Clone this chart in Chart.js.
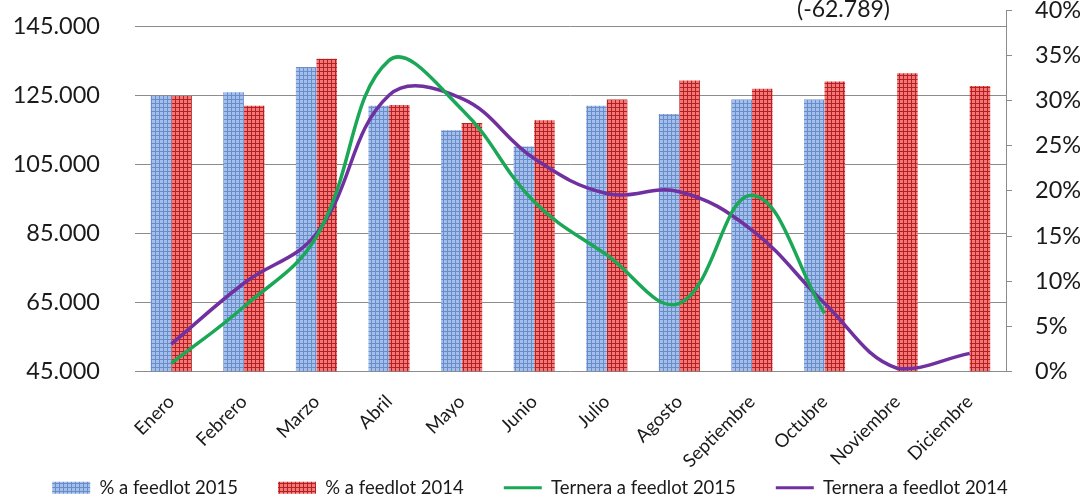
<!DOCTYPE html>
<html>
<head>
<meta charset="utf-8">
<script src="https://cdn.jsdelivr.net/npm/chart.js@4.4.1/dist/chart.umd.min.js"></script>
<style>
  html, body { margin: 0; padding: 0; background: #fff; }
  #wrap { position: relative; width: 1088px; height: 503px; }
  #note {
    position: absolute; left: 797px; top: -6px;
    font: 23px Lato, sans-serif; color: #1a1a1a;
  }
</style>
</head>
<body>
<div id="wrap">
  <canvas id="chart" width="1088" height="503"></canvas>
  <div id="note">(-62.789)</div>
</div>
<script>
// chart data
const months = ["Enero", "Febrero", "Marzo", "Abril", "Mayo", "Junio", "Julio",
  "Agosto", "Septiembre", "Octubre", "Noviembre", "Diciembre"];

// % a feedlot (right axis)
const pct2015 = [30.5, 30.9, 33.7, 29.4, 26.7, 24.9, 29.4, 28.5, 30.1, 30.1, null, null];
const pct2014 = [30.5, 29.4, 34.6, 29.5, 27.5, 27.8, 30.1, 32.2, 31.3, 32.1, 33.0, 31.6];

// Ternera a feedlot, cabezas (left axis)
const ternera2015 = [47400, 63800, 84100, 135100, 121000, 94200, 78800, 64800, 96100, 61900, null, null];
const ternera2014 = [53000, 70600, 85000, 125000, 124100, 106700, 96600, 97100, 86000, 64800, 46000, 50300];

const leftTicks = [45000, 65000, 85000, 105000, 125000, 145000];
const rightTicks = [0, 5, 10, 15, 20, 25, 30, 35, 40];

const TEXT = "#1a1a1a";
const GRID = "#8c8c8c";
const FONT = "Lato, sans-serif";

// crosshatch fill like the excel pattern
function hatch(base, line) {
  const c = document.createElement("canvas");
  c.width = 4;
  c.height = 4;
  const g = c.getContext("2d");
  g.fillStyle = base;
  g.fillRect(0, 0, 4, 4);
  g.fillStyle = line;
  g.fillRect(3, 0, 1, 4);
  g.fillRect(0, 3, 4, 1);
  return g.createPattern(c, "repeat");
}

const blueFill = hatch("#a3c0ec", "#6a8cc8");
const redFill = hatch("#f47878", "#b22222");
const green = "#1aa857";
const purple = "#7030a0";

function thousands(v) {
  return String(v).replace(/\B(?=(\d{3})+(?!\d))/g, ".");
}

// legend sits a bit left of centre in the original,
// and the rotated month names run down into the legend band
const layoutTweaks = {
  id: "layoutTweaks",
  afterLayout(chart) {
    chart.legend.left -= 14;
    chart.legend.right -= 14;
    chart.scales.x.bottom = chart.height;
  },
};

const ctx = document.getElementById("chart").getContext("2d");

new Chart(ctx, {
  type: "bar",
  data: {
    labels: months,
    datasets: [
      {
        label: "% a feedlot 2015",
        data: pct2015,
        backgroundColor: blueFill,
        yAxisID: "yPct",
        order: 2,
      },
      {
        label: "% a feedlot 2014",
        data: pct2014,
        backgroundColor: redFill,
        yAxisID: "yPct",
        order: 2,
      },
      {
        type: "line",
        label: "Ternera a feedlot 2015",
        data: ternera2015,
        borderColor: green,
        borderWidth: 3.5,
        tension: 0.4,
        pointRadius: 0,
        yAxisID: "yHead",
        order: 0,
      },
      {
        type: "line",
        label: "Ternera a feedlot 2014",
        data: ternera2014,
        borderColor: purple,
        borderWidth: 3.5,
        tension: 0.4,
        pointRadius: 0,
        yAxisID: "yHead",
        order: 1,
      },
    ],
  },
  plugins: [layoutTweaks],
  options: {
    responsive: false,
    animation: false,
    layout: { padding: { top: 0, left: 0, right: 0, bottom: -4 } },
    datasets: {
      bar: { categoryPercentage: 0.566, barPercentage: 1.0 },
    },
    scales: {
      x: {
        grid: { display: false },
        border: { display: false },
        ticks: {
          color: TEXT,
          font: { family: FONT, size: 18.5 },
          minRotation: 45,
          maxRotation: 45,
          padding: 11,
        },
        afterFit: (s) => { s.height = 66.8; },
      },
      yHead: {
        position: "left",
        min: 45000,
        max: 149700,
        afterBuildTicks: (s) => { s.ticks = leftTicks.map((v) => ({ value: v })); },
        grid: { color: GRID, drawTicks: false },
        border: { display: false },
        ticks: {
          color: TEXT,
          padding: 35,
          font: { family: FONT, size: 23.5 },
          callback: (v) => thousands(v),
        },
        afterFit: (s) => {
          s.width = 135;
          s.paddingTop = 10;
          s.paddingBottom = 10;
        },
      },
      yPct: {
        position: "right",
        min: 0,
        max: 40,
        afterBuildTicks: (s) => { s.ticks = rightTicks.map((v) => ({ value: v })); },
        grid: { drawOnChartArea: false, color: GRID, tickLength: 6 },
        border: { display: true, color: GRID },
        ticks: {
          color: TEXT,
          padding: 23,
          font: { family: FONT, size: 23.5 },
          callback: (v) => v + "%",
        },
        afterFit: (s) => {
          s.width = 82;
          s.paddingTop = 10;
          s.paddingBottom = 10;
        },
      },
    },
    plugins: {
      tooltip: { enabled: false },
      legend: {
        position: "bottom",
        labels: {
          color: TEXT,
          font: { family: FONT, size: 18.5 },
          usePointStyle: true,
          pointStyleWidth: 38,
          boxHeight: 12,
          padding: 40,
          generateLabels: (chart) =>
            chart.data.datasets.map((ds, i) => {
              const isLine = ds.type === "line";
              return {
                text: ds.label,
                datasetIndex: i,
                hidden: false,
                fillStyle: isLine ? ds.borderColor : ds.backgroundColor,
                strokeStyle: isLine ? ds.borderColor : "transparent",
                lineWidth: isLine ? 3 : 0,
                pointStyle: isLine ? "line" : "rect",
                fontColor: TEXT,
              };
            }),
        },
      },
    },
  },
});
</script>
</body>
</html>
